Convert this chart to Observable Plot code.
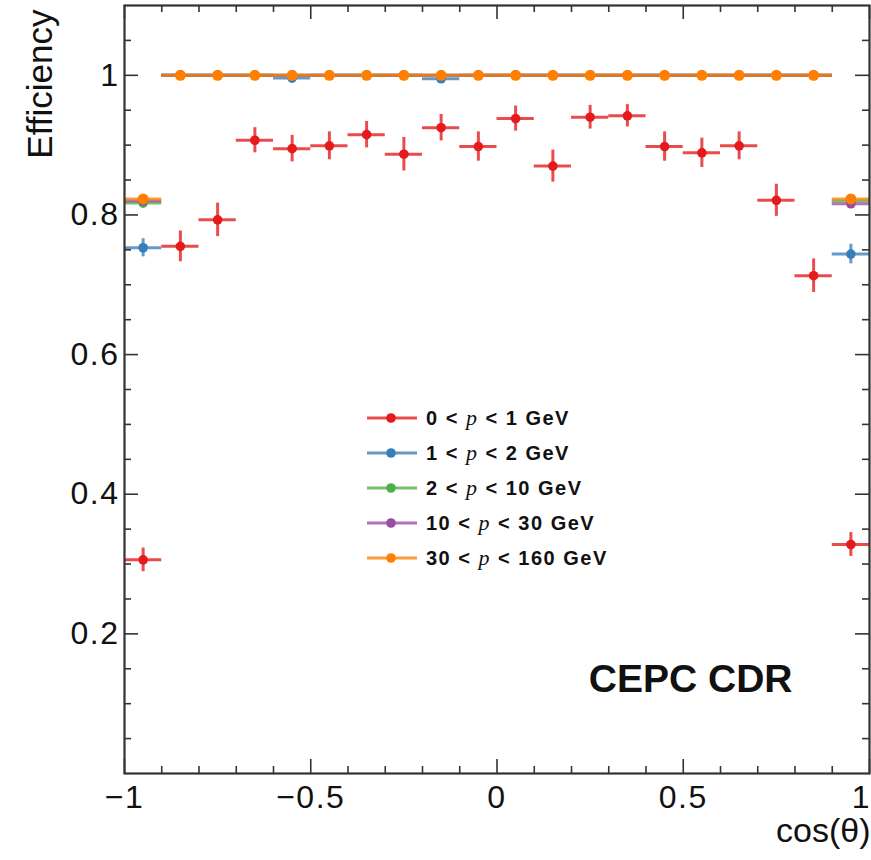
<!DOCTYPE html>
<html>
<head>
<meta charset="utf-8">
<script src="https://cdn.jsdelivr.net/npm/d3@7"></script>
<script src="https://cdn.jsdelivr.net/npm/@observablehq/plot@0.6"></script>
<style>
  body { margin: 0; background: white; }
  #wrap { position: relative; width: 871px; height: 860px; overflow: hidden; }
  g[aria-label="x-axis tick label"] text, g[aria-label="y-axis tick label"] text,
  g[aria-label="ylabel"] text, g[aria-label="xlabel"] text { letter-spacing: 1.5px; }
  #legend { position: absolute; left: 367px; top: 400px; font-family: "Liberation Sans", Arial, sans-serif;
    font-weight: bold; font-size: 20px; letter-spacing: 1.5px; color: #111; }
  #legend .row { display: flex; align-items: center; height: 35px; }
  #legend svg { margin-right: 9px; }
  #legend .p { font-family: "Liberation Serif", serif; font-style: italic; font-weight: normal; font-size: 22px; }
</style>
</head>
<body>
<div id="wrap"></div>
<script>
// ---- data ----
const binCenters = [-0.95, -0.85, -0.75, -0.65, -0.55, -0.45, -0.35, -0.25, -0.15, -0.05,
                     0.05, 0.15, 0.25, 0.35, 0.45, 0.55, 0.65, 0.75, 0.85, 0.95];
const binHalfWidth = 0.05;

const seriesNames = ["0 < p < 1 GeV", "1 < p < 2 GeV", "2 < p < 10 GeV", "10 < p < 30 GeV", "30 < p < 160 GeV"];
const seriesColors = ["#e41a1c", "#377eb8", "#4daf4a", "#984ea3", "#ff7f00"];

const effP0to1 = [0.306, 0.755, 0.793, 0.907, 0.895, 0.899, 0.915, 0.887, 0.925, 0.898,
                  0.938, 0.870, 0.940, 0.942, 0.898, 0.889, 0.899, 0.821, 0.713, 0.328];
const errP0to1 = [0.017, 0.022, 0.024, 0.018, 0.019, 0.020, 0.019, 0.024, 0.019, 0.021,
                  0.018, 0.023, 0.017, 0.016, 0.021, 0.021, 0.020, 0.023, 0.024, 0.017];

const effP1to2 = [0.753, 1, 1, 1, 0.996, 1, 1, 1, 0.995, 1,
                  1, 1, 1, 1, 1, 1, 1, 1, 1, 0.744];
const errP1to2 = [0.013, 0, 0, 0, 0.003, 0, 0, 0, 0.003, 0,
                  0, 0, 0, 0, 0, 0, 0, 0, 0, 0.014];

const effP2to10 = [0.817, 1, 1, 1, 1, 1, 1, 1, 1, 1,
                   1, 1, 1, 1, 1, 1, 1, 1, 1, 0.820];
const errP2to10 = [0.005, 0, 0, 0, 0, 0, 0, 0, 0, 0,
                   0, 0, 0, 0, 0, 0, 0, 0, 0, 0.005];

const effP10to30 = [0.820, 1, 1, 1, 1, 1, 1, 1, 1, 1,
                    1, 1, 1, 1, 1, 1, 1, 1, 1, 0.816];
const errP10to30 = [0.005, 0, 0, 0, 0, 0, 0, 0, 0, 0,
                    0, 0, 0, 0, 0, 0, 0, 0, 0, 0.005];

const effP30to160 = [0.823, 1, 1, 1, 1, 1, 1, 1, 1, 1,
                     1, 1, 1, 1, 1, 1, 1, 1, 1, 0.823];
const errP30to160 = [0.005, 0, 0, 0, 0, 0, 0, 0, 0, 0,
                     0, 0, 0, 0, 0, 0, 0, 0, 0, 0.005];

const xMajorTicks = [-1, -0.5, 0, 0.5, 1];
const xLabelTicks = [-1, -0.5, 0, 0.5];
const xEdgeLabelTicks = [1];
const xMinorTicks = [-0.9, -0.8, -0.7, -0.6, -0.4, -0.3, -0.2, -0.1, 0.1, 0.2, 0.3, 0.4, 0.6, 0.7, 0.8, 0.9];
const yMajorTicks = [0.2, 0.4, 0.6, 0.8, 1];
const yLabelTicks = [0.2, 0.4, 0.6, 0.8, 1];
const yMinorTicks = [0.05, 0.1, 0.15, 0.25, 0.3, 0.35, 0.45, 0.5, 0.55, 0.65, 0.7, 0.75, 0.85, 0.9, 0.95, 1.05];

const xLabel = "cos(θ)";
const yLabel = "Efficiency";
const stamp = "CEPC CDR";

// ---- build ----
const effs = [effP0to1, effP1to2, effP2to10, effP10to30, effP30to160];
const errs = [errP0to1, errP1to2, errP2to10, errP10to30, errP30to160];
const series = effs.map((e, s) => binCenters.map((x, i) => ({
  x, lo: x - binHalfWidth, hi: x + binHalfWidth, eff: e[i], err: errs[s][i], name: seriesNames[s]
})));

const W = 871, H = 860, mL = 124, mR = 2, mT = 5, mB = 87;
const frameW = W - mL - mR, frameH = H - mT - mB;
const majorLen = 14, minorLen = 7;
const tickStyle = {stroke: "#333", strokeWidth: 1.6};
const fmtX = d => d === 0 ? "0" : (d < 0 ? "\u2212" : "") + Math.abs(d);

const marks = [];
series.forEach((rows, s) => {
  const c = seriesColors[s];
  marks.push(Plot.ruleY(rows, {y: "eff", x1: "lo", x2: "hi", stroke: c, strokeWidth: 3, strokeOpacity: 0.78}));
  marks.push(Plot.ruleX(rows.filter(d => d.err > 0), {x: "x", y1: d => d.eff - d.err, y2: d => d.eff + d.err, stroke: c, strokeWidth: 3, strokeOpacity: 0.78}));
  marks.push(Plot.dot(rows, {x: "x", y: "eff", r: s === 4 ? 5.5 : 4.8, fill: c, stroke: "none"}));
});

const chart = Plot.plot({
  width: W, height: H,
  marginLeft: mL, marginRight: mR, marginTop: mT, marginBottom: mB,
  style: {background: "white", fontFamily: "'Liberation Sans', Arial, sans-serif", color: "#111"},
  x: {domain: [-1, 1], label: null},
  y: {domain: [0, 1.1], label: null},
  marks: [
    ...marks,
    // inward ticks on all four sides
    Plot.ruleX(xMajorTicks, {x: d => d, insetTop: frameH - majorLen, ...tickStyle}),
    Plot.ruleX(xMajorTicks, {x: d => d, insetBottom: frameH - majorLen, ...tickStyle}),
    Plot.ruleX(xMinorTicks, {x: d => d, insetTop: frameH - minorLen, ...tickStyle}),
    Plot.ruleX(xMinorTicks, {x: d => d, insetBottom: frameH - minorLen, ...tickStyle}),
    Plot.ruleY(yMajorTicks, {y: d => d, insetRight: frameW - majorLen, ...tickStyle}),
    Plot.ruleY(yMajorTicks, {y: d => d, insetLeft: frameW - majorLen, ...tickStyle}),
    Plot.ruleY(yMinorTicks, {y: d => d, insetRight: frameW - minorLen, ...tickStyle}),
    Plot.ruleY(yMinorTicks, {y: d => d, insetLeft: frameW - minorLen, ...tickStyle}),
    Plot.frame({stroke: "#333", strokeWidth: 2.2}),
    Plot.axisX(xLabelTicks, {tickSize: 0, tickPadding: 12, fontSize: 32, fill: "#111", label: null, tickFormat: fmtX}),
    Plot.axisX(xEdgeLabelTicks, {tickSize: 0, tickPadding: 12, fontSize: 32, fill: "#111", label: null, tickFormat: fmtX,
      dx: -8}),
    Plot.axisY(yLabelTicks, {tickSize: 0, tickPadding: 5, fontSize: 32, fill: "#111", label: null,
      tickFormat: d => String(d)}),
    Plot.text([yLabel], {frameAnchor: "top-left", rotate: -90, textAnchor: "end", dx: -97, dy: 4,
      fontSize: 35, fill: "#111", ariaLabel: "ylabel"}),
    Plot.text([xLabel], {frameAnchor: "bottom-right", textAnchor: "end", dx: 1, dy: 68,
      fontSize: 34, fill: "#111", ariaLabel: "xlabel"}),
    Plot.text([stamp], {frameAnchor: "bottom-right", textAnchor: "end", dx: -77, dy: -82,
      fontSize: 39, fontWeight: "bold", fill: "#111"})
  ]
});

const wrap = document.getElementById("wrap");
wrap.appendChild(chart);

// legend overlay
const legend = document.createElement("div");
legend.id = "legend";
seriesNames.forEach((name, s) => {
  const row = document.createElement("div");
  row.className = "row";
  const c = seriesColors[s];
  const parts = name.split("p");
  row.innerHTML = `<svg width="50" height="14"><line x1="0" x2="50" y1="7" y2="7" stroke="${c}" stroke-width="3" stroke-opacity="0.78"/><circle cx="24" cy="7" r="4.8" fill="${c}"/></svg>` +
    `<span>${parts[0].replace(/</g, "&lt;")}<span class="p">p</span>${parts[1].replace(/</g, "&lt;")}</span>`;
  legend.appendChild(row);
});
wrap.appendChild(legend);
</script>
</body>
</html>
